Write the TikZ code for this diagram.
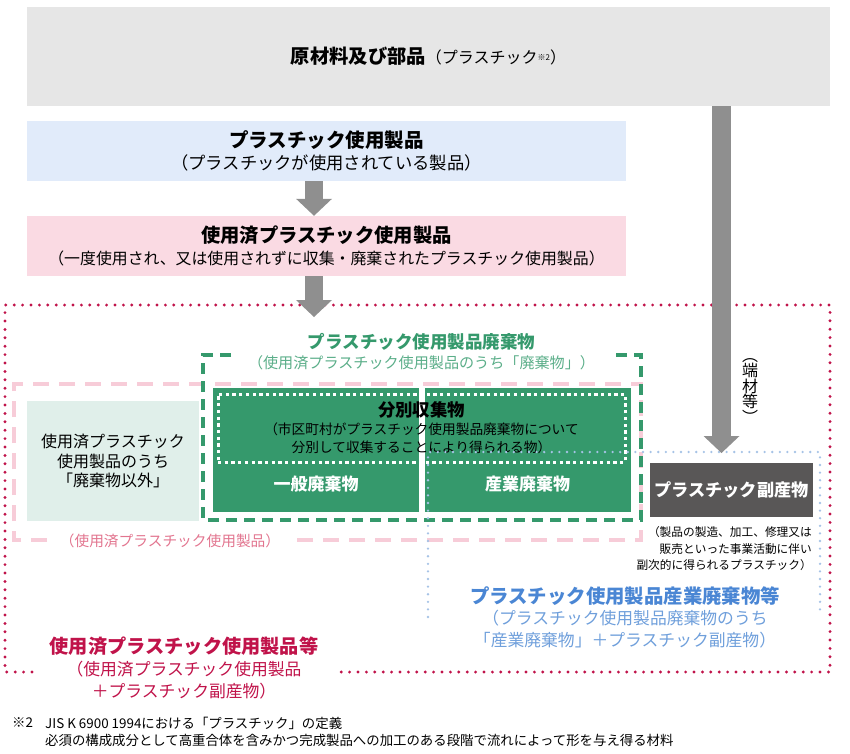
\documentclass[tikz,border=0pt]{standalone}
\usepackage{fontspec}
\setmainfont{Noto Sans CJK JP}
\usetikzlibrary{arrows.meta, positioning}

\definecolor{rawgray}{HTML}{E6E6E6}
\definecolor{prodblue}{HTML}{E1EBFA}
\definecolor{usedpink}{HTML}{FADAE3}
\definecolor{arrowgray}{HTML}{8F8F8F}
\definecolor{usedred}{HTML}{C0134A}
\definecolor{framepink}{HTML}{F7CCD8}
\definecolor{labelpink}{HTML}{E2758F}
\definecolor{wastegreen}{HTML}{35996C}
\definecolor{subgreen}{HTML}{5BAE89}
\definecolor{palegreen}{HTML}{E0EFEA}
\definecolor{bypgray}{HTML}{595757}
\definecolor{dotblue}{HTML}{A6C3E6}
\definecolor{indblue}{HTML}{4A86D4}
\definecolor{subblue}{HTML}{6F9FDB}

\newcommand\fs[2]{\fontsize{#1}{#2}\selectfont}

\begin{document}
\begin{tikzpicture}[
    x = 1pt, y = -1pt,
    panel/.style = {
      rectangle,
      inner sep = 0,
      align = center,
    },
    flowbox/.style = {
      panel,
      minimum width = 599pt,
      minimum height = 60pt,
      font = \fs{17.3}{22},
    },
    wastebox/.style = {
      rectangle,
      fill = wastegreen,
      minimum width = 206pt,
      minimum height = 124pt,
    },
    wastelabel/.style = {
      panel,
      text = white,
      font = \bfseries\fs{17}{20},
    },
    bigarrow/.style = {
      draw = arrowgray,
      line width = 18pt,
      -{Triangle[length = 17pt, width = 36pt, line width = 0pt]},
    },
    reddots/.style = {
      draw = usedred,
      line width = 3.2pt,
      line cap = round,
      dash pattern = on 0pt off 8.4pt,
    },
    bluedots/.style = {
      draw = dotblue,
      line width = 2.6pt,
      line cap = round,
      dash pattern = on 0pt off 7.6pt,
    },
    pinkdash/.style = {
      draw = framepink,
      line width = 3.4pt,
      dash pattern = on 16pt off 10pt,
    },
    greendash/.style = {
      draw = wastegreen,
      line width = 4.4pt,
      dash pattern = on 11pt off 7pt,
    },
  ]
  \useasboundingbox (0,0) rectangle (850,753);

  \node[panel, fill = rawgray, minimum width = 803pt, minimum height = 99pt] (raw) at (428.5,56.5)
    {{\bfseries\fs{19.3}{23}原材料及び部品}{\fs{16}{20}（プラスチック\raisebox{3pt}{\fs{8}{9}※2}）}};
  \node[flowbox, fill = prodblue] (prod) at (326.5,151)
    {{\bfseries\fs{19.5}{22}プラスチック使用製品}\\（プラスチックが使用されている製品）};
  \node[flowbox, fill = usedpink, font = \fs{15.9}{22}] (used) at (326.5,246)
    {{\bfseries\fs{19.3}{22}使用済プラスチック使用製品}\\（一度使用され、又は使用されずに収集・廃棄されたプラスチック使用製品）};

  \draw[reddots] (32,672) -- (5,672) -- (5,305) -- (830,305) -- (830,672) -- (338,672);
  \draw[pinkdash] (47,540) -- (14,540) -- (14,384) -- (641,384) -- (641,540) -- (292,540);
  \draw[greendash] (231,355) -- (203,355) -- (203,520) -- (641,520) -- (641,355) -- (614,355);

  \node[panel, fill = palegreen, minimum width = 172pt, minimum height = 120pt, font = \fs{16}{19.5}] (other) at (113,461)
    {使用済プラスチック\\使用製品のうち\\「廃棄物以外」};
  \node[wastebox] (gen) at (316,450) {};
  \node[wastebox] (ind) at (527.5,450) {};
  \node[panel, draw = white, line width = 3pt, dash pattern = on 3.3pt off 3.4pt,
    minimum width = 407pt, minimum height = 68pt, font = \fs{13.7}{18}] (sorted) at (421.5,428)
    {{\bfseries\fs{17.4}{18}分別収集物}\\（市区町村がプラスチック使用製品廃棄物について\\分別して収集することにより得られる物）};
  \node[wastelabel] (genL) at ([yshift = -34pt]gen.center) {一般廃棄物};
  \node[wastelabel] (indL) at ([yshift = -34pt]ind.center) {産業廃棄物};

  \node[panel, fill = bypgray, minimum width = 163pt, minimum height = 54pt, text = white,
    font = \bfseries\fs{17.2}{20}] (byp) at (731.5,490) {プラスチック副産物};
  \node[panel, align = right, anchor = east, font = \fs{11.7}{16.5}] (bypNote) at (812,549)
    {（製品の製造、加工、修理又は\\販売といった事業活動に伴い\\副次的に得られるプラスチック）};

  \draw[bluedots] (428,617) -- (428,452) -- (820,452) -- (820,615);

  \coordinate (down) at (314,317);
  \coordinate (cut) at (721.5,453);
  \draw[bigarrow] (prod.south -| down) -- (used.north -| down);
  \draw[bigarrow] (used.south -| down) -- (down);
  \draw[bigarrow, line width = 19pt] (raw.south -| cut) -- (cut);
  \node[panel, font = \fs{16}{15.5}] (cutL) at (750,391) {︵\\端\\材\\等\\︶};

  \node[panel, text = subgreen, font = \fs{15.1}{20}] (wasteT) at (421.5,352)
    {{\bfseries\fs{17.5}{20}\color{wastegreen}プラスチック使用製品廃棄物}\\（使用済プラスチック使用製品のうち「廃棄物」）};
  \node[panel, text = labelpink, font = \fs{14.7}{18}] (usedL) at (170,541) {（使用済プラスチック使用製品）};
  \node[panel, text = subblue, font = \fs{16.8}{21.5}] (indT) at (625,617)
    {{\bfseries\fs{19.4}{21.5}\color{indblue}プラスチック使用製品産業廃棄物等}\\（プラスチック使用製品廃棄物のうち\\「産業廃棄物」＋プラスチック副産物）};
  \node[panel, text = usedred, font = \fs{16.8}{22}] (usedT) at (184,668)
    {{\bfseries\fs{19.2}{22}使用済プラスチック使用製品等}\\（使用済プラスチック使用製品\\＋プラスチック副産物）};

  \node[panel, anchor = west, font = \fs{13.4}{17}] (fnMark) at (12,723) {※2};
  \node[panel, anchor = west, align = left, font = \fs{13.4}{17}] (fnText) at (45,731.5)
    {JIS K 6900 1994における「プラスチック」の定義\\必須の構成成分として高重合体を含みかつ完成製品への加工のある段階で流れによって形を与え得る材料};
\end{tikzpicture}
\end{document}
